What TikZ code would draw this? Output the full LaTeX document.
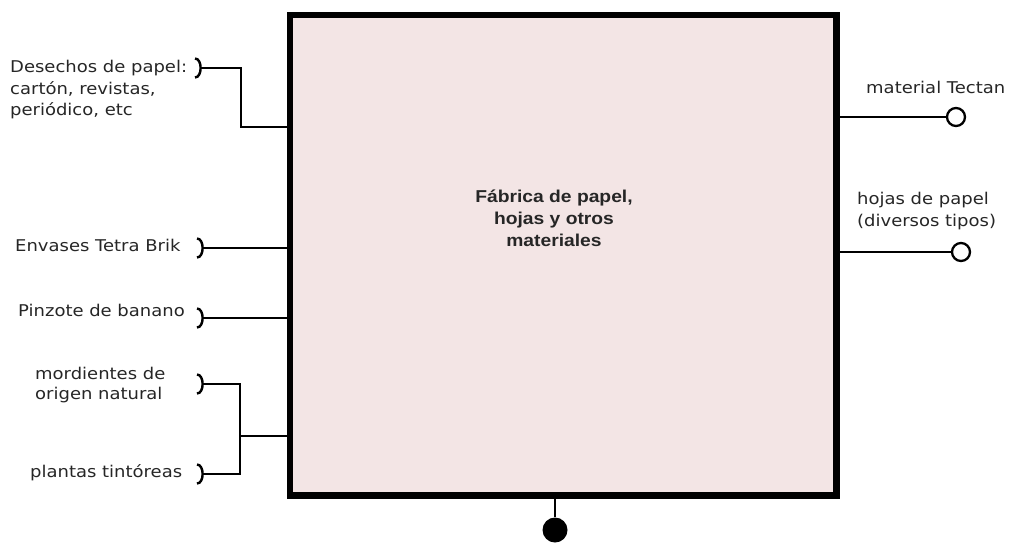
\documentclass[tikz,border=0pt]{standalone}
\usepackage{fontspec}
\setmainfont{DejaVu Sans}[FakeStretch=1.11]
\newfontfamily\titlefont{Liberation Sans}[FakeStretch=1.12]
\begin{document}
\begin{tikzpicture}[x=1pt,y=-1pt,
  lbl/.style={inner sep=0pt,align=left,text=black!85,font=\fontsize{16.2}{21.5}\selectfont},
  wire/.style={line width=2.3pt},
  brk/.style={line width=2.4pt},
  frame/.style={line width=6.5pt,fill=procfill}]
\definecolor{procfill}{RGB}{243,229,229}
\useasboundingbox (0,0) rectangle (1011,542);
% main box
\node[frame,draw,minimum width=546.5pt,minimum height=480.5pt,inner sep=0pt] (box) at (563.25,255.25) {};
\node[align=center,inner sep=0pt,text=black!85,font=\titlefont\bfseries\fontsize{17.2}{22}\selectfont] (title) at (554,218) {Fábrica de papel,\\hojas y otros\\materiales};
% left labels
\node[lbl,anchor=west] (des) at (10,90) {Desechos de papel:\\cartón, revistas,\\periódico, etc};
\node[lbl,anchor=west] (env) at (15,245) {Envases Tetra Brik};
\node[lbl,anchor=west] (pin) at (18,310) {Pinzote de banano};
\node[lbl,anchor=west,font=\fontsize{16.2}{20}\selectfont] (mor) at (35,385) {mordientes de\\origen natural};
\node[lbl,anchor=west] (pla) at (30,473) {plantas tintóreas};
% right labels
\node[lbl,anchor=west] (tec) at (866,87) {material Tectan};
\node[lbl,anchor=west] (hoj) at (857,211) {hojas de papel\\(diversos tipos)};
% bracket tips
\coordinate (bd) at (201,68);
\coordinate (be) at (203,248);
\coordinate (bp) at (203,318);
\coordinate (bm) at (203,384);
\coordinate (bt) at (203,474);
\foreach \c in {bd,be,bp,bm,bt}{
  \draw[brk] ([xshift=-6pt,yshift=-9.5pt]\c) .. controls ([xshift=1.5pt,yshift=-9.5pt]\c) and ([xshift=1.5pt,yshift=9.5pt]\c) .. ([xshift=-6pt,yshift=9.5pt]\c);
}
% left connectors
\draw[wire] (bd) -| (241,127) -- (box.west |- 0,127);
\draw[wire] (be) -- (box.west |- be);
\draw[wire] (bp) -- (box.west |- bp);
\coordinate (jn) at (240,436);
\draw[wire] (bm) -| (jn) |- (bt);
\draw[wire] (jn) -- (box.west |- jn);
% right outputs
\node[draw,circle,line width=2.3pt,fill=white,minimum size=18pt,inner sep=0pt] (o1) at (956,117) {};
\node[draw,circle,line width=2.3pt,fill=white,minimum size=18pt,inner sep=0pt] (o2) at (961,252) {};
\draw[wire] (box.east |- o1) -- (o1);
\draw[wire] (box.east |- o2) -- (o2);
% bottom output
\node[circle,fill=black,minimum size=25pt,inner sep=0pt] (o3) at (555,530) {};
\draw[wire] (box.south -| o3) -- (o3);
\end{tikzpicture}
\end{document}
